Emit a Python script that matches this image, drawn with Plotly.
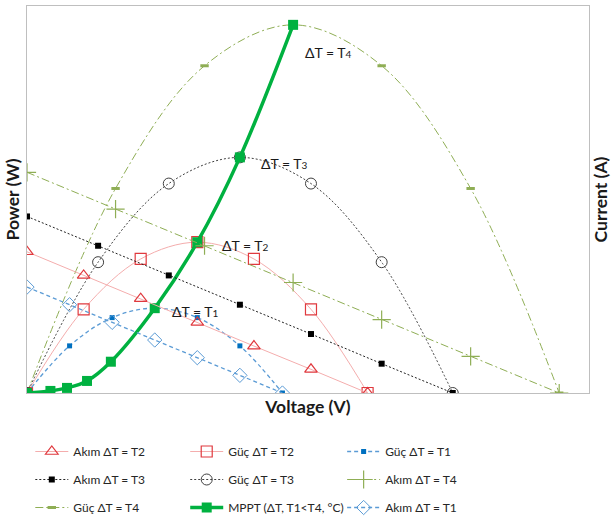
import plotly.graph_objects as go

# ---- data ----
v_t1 = [0, 1, 2, 3, 4, 5, 6]
i_t1 = [3.0, 2.5, 2.0, 1.5, 1.0, 0.5, 0]
p_t1 = [0, 2.5, 4.0, 4.5, 4.0, 2.5, 0]

v_t2 = [0, 1.33, 2.67, 4.0, 5.33, 6.67, 8.0]
i_t2 = [4.0, 3.33, 2.67, 2.0, 1.33, 0.67, 0]
p_t2 = [0, 4.44, 7.11, 8.0, 7.11, 4.44, 0]

v_t3 = [0, 1.67, 3.33, 5.0, 6.67, 8.33, 10.0]
i_t3 = [5.0, 4.17, 3.33, 2.5, 1.67, 0.83, 0]
p_t3 = [0, 6.94, 11.11, 12.5, 11.11, 6.94, 0]

v_t4 = [0, 2.08, 4.17, 6.25, 8.33, 10.42, 12.5]
i_t4 = [6.25, 5.21, 4.17, 3.13, 2.08, 1.04, 0]
p_t4 = [0, 10.85, 17.36, 19.53, 17.36, 10.85, 0]

v_mppt = [0, 0.55, 0.94, 1.41, 1.97, 3.0, 4.0, 5.0, 6.25]
p_mppt = [0, 0.11, 0.27, 0.64, 1.66, 4.5, 8.0, 12.5, 19.53]

labels = ["ΔT = T<span style='font-size:10px'>1</span>",
          "ΔT = T<span style='font-size:10px'>2</span>",
          "ΔT = T<span style='font-size:10px'>3</span>",
          "ΔT = T<span style='font-size:10px'>4</span>"]
label_v = [3.95, 5.13, 6.04, 7.07]
label_p = [4.35, 7.8, 12.15, 18.09]

RED = "#E0393E"
PINK = "#F4ADAD"
BLUE_D = "#0070C0"
BLUE_L = "#5B9BD5"
OLIVE = "#8FAE55"
GREEN = "#00B140"

fig = go.Figure()

def add(x, y, name, yaxis, legend, line, marker, shape="spline"):
    fig.add_trace(go.Scatter(x=x, y=y, name=name, yaxis=yaxis, mode="lines+markers",
                             legend=legend, legendgroup=name,
                             line=dict(shape=shape, smoothing=1.0, **line), marker=marker))

add(v_t2, i_t2, "Akım ΔT = T2", "y2", "legend", dict(color=PINK, width=1),
    dict(symbol="triangle-up-open", size=11, color=RED, line=dict(width=1.2, color=RED)), "linear")
add(v_t3, i_t3, "Akım ΔT = T3", "y2", "legend", dict(color="#222222", width=1, dash="2px,2px"),
    dict(symbol="square", size=6, color="#000000"), "linear")
add(v_t4, p_t4, "Güç ΔT = T4", "y", "legend", dict(color=OLIVE, width=1, dash="8px,3px,2px,3px"),
    dict(symbol="line-ew-open", size=6, color=OLIVE, line=dict(width=3, color=OLIVE)))

add(v_t2, p_t2, "Güç ΔT = T2", "y", "legend2", dict(color=PINK, width=1),
    dict(symbol="square-open", size=11, color=RED, line=dict(width=1.2, color=RED)))
add(v_t3, p_t3, "Güç ΔT = T3", "y", "legend2", dict(color="#404040", width=1, dash="2px,2px"),
    dict(symbol="circle-open", size=11, color="#404040", line=dict(width=1, color="#404040")))

add(v_t1, p_t1, "Güç ΔT = T1", "y", "legend3", dict(color=BLUE_L, width=1.3, dash="4px,3px"),
    dict(symbol="square", size=5, color=BLUE_D))
add(v_t4, i_t4, "Akım ΔT = T4", "y2", "legend3", dict(color=OLIVE, width=1, dash="8px,3px,2px,3px"),
    dict(symbol="cross-thin-open", size=13, color=OLIVE, line=dict(width=1.2, color=OLIVE)), "linear")
add(v_t1, i_t1, "Akım ΔT = T1", "y2", "legend3", dict(color=BLUE_L, width=1.3, dash="4px,3px"),
    dict(symbol="diamond-open", size=11, color=BLUE_L, line=dict(width=1, color=BLUE_L)), "linear")

add(v_mppt, p_mppt, "MPPT (ΔT, T1<T4, °C)", "y", "legend2", dict(color=GREEN, width=3.5),
    dict(symbol="square", size=10, color=GREEN))

for t, x, y in zip(labels, label_v, label_p):
    fig.add_annotation(x=x, y=y, xref="x", yref="y", text=t, showarrow=False,
                       font=dict(size=14, color="#1a1a1a", family="Lato"))

axis_common = dict(showgrid=False, zeroline=False, showticklabels=False, ticks="",
                   showline=True, linecolor="#BFBFBF", linewidth=1)

leg_common = dict(orientation="v", yanchor="top", xanchor="left", itemwidth=33,
                  font=dict(size=12, color="#262626"), tracegroupgap=9,
                  bgcolor="rgba(0,0,0,0)")
leg_top = (393 - 437) / 387

fig.update_layout(
    width=611, height=522,
    margin=dict(l=27, r=22, t=6, b=129, autoexpand=False),
    paper_bgcolor="white", plot_bgcolor="white",
    font=dict(family="Lato", size=14, color="#1a1a1a"),
    xaxis=dict(range=[0, 13.2], mirror=True, automargin=False,
               title=dict(text="<b>Voltage (V)</b>", standoff=7, font=dict(size=17.5)), **axis_common),
    yaxis=dict(range=[0, 20.53], mirror=True, automargin=False,
               title=dict(text="<b>Power (W)</b>", standoff=1, font=dict(size=17.5)), **axis_common),
    yaxis2=dict(range=[0, 10.96], overlaying="y", side="right", automargin=False,
                title=dict(text="<b>Current (A)</b>", standoff=12, font=dict(size=17.5)), **axis_common),
    showlegend=True,
    legend=dict(x=(30 - 26.7) / 562.3, y=leg_top, **leg_common),
    legend2=dict(x=(185 - 26.7) / 562.3, y=leg_top, **leg_common),
    legend3=dict(x=(342 - 26.7) / 562.3, y=leg_top, **leg_common),
)

fig.write_html("out.html", config={"displayModeBar": False},
               post_script="document.body.style.margin='0';")
